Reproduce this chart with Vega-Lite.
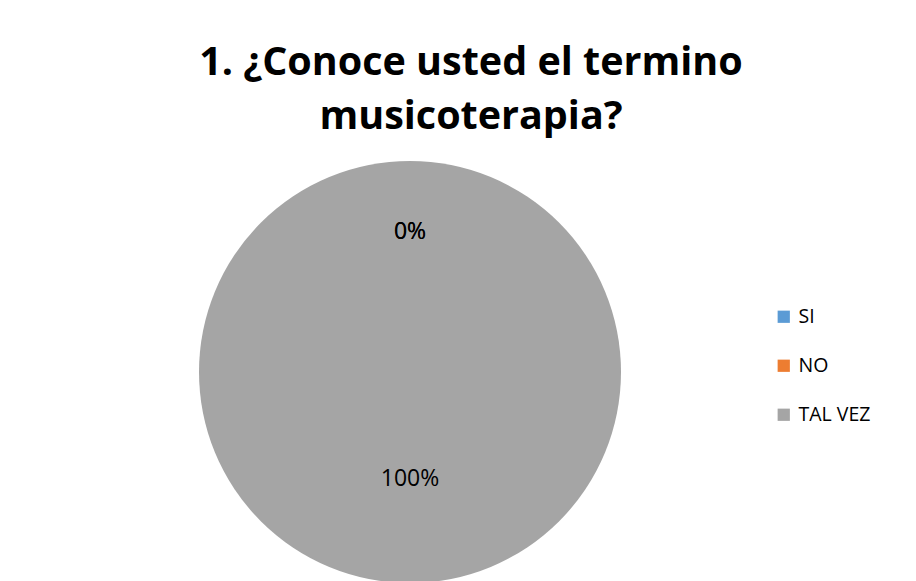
{
  "$schema": "https://vega.github.io/schema/vega-lite/v6.json",
  "autosize": {"type": "none"},
  "width": 422,
  "height": 422,
  "padding": {"left": 199, "top": 161, "right": 295, "bottom": 0},
  "background": "white",
  "config": {"view": {"stroke": null}},
  "title": {
    "text": ["1. ¿Conoce usted el termino", "musicoterapia?"],
    "font": "Open Sans",
    "fontSize": 39.5,
    "fontWeight": "bold",
    "color": "#000000",
    "lineHeight": 54,
    "anchor": "middle",
    "frame": "group",
    "dx": 61,
    "offset": 24
  },
  "data": {
    "values": [
      {"respuesta": "SI", "valor": 0, "pct": "0%"},
      {"respuesta": "NO", "valor": 0, "pct": "0%"},
      {"respuesta": "TAL VEZ", "valor": 100, "pct": "100%"}
    ]
  },
  "encoding": {
    "theta": {"field": "valor", "type": "quantitative", "stack": true}
  },
  "layer": [
    {
      "mark": {"type": "arc", "outerRadius": 211},
      "encoding": {
        "color": {
          "field": "respuesta",
          "type": "nominal",
          "sort": ["SI", "NO", "TAL VEZ"],
          "scale": {"domain": ["SI", "NO", "TAL VEZ"], "range": ["#5B9BD5", "#ED7D31", "#A5A5A5"]},
          "legend": {
            "title": null,
            "orient": "none",
            "legendX": 575,
            "legendY": 146,
            "symbolType": "square",
            "symbolSize": 150,
            "symbolStrokeWidth": 0,
            "labelFont": "Open Sans",
            "labelFontSize": 19.5,
            "labelColor": "#000000",
            "rowPadding": 28,
            "labelOffset": 5
          }
        }
      }
    },
    {
      "mark": {"type": "text", "radius": 140, "font": "Open Sans", "fontSize": 23, "color": "#000000", "baseline": "middle"},
      "encoding": {
        "text": {"condition": {"test": "datum.valor == 0", "field": "pct"}, "value": ""}
      }
    },
    {
      "mark": {"type": "text", "radius": 107, "font": "Open Sans", "fontSize": 23, "color": "#000000", "baseline": "middle"},
      "encoding": {
        "text": {"condition": {"test": "datum.valor > 0", "field": "pct"}, "value": ""}
      }
    }
  ]
}
